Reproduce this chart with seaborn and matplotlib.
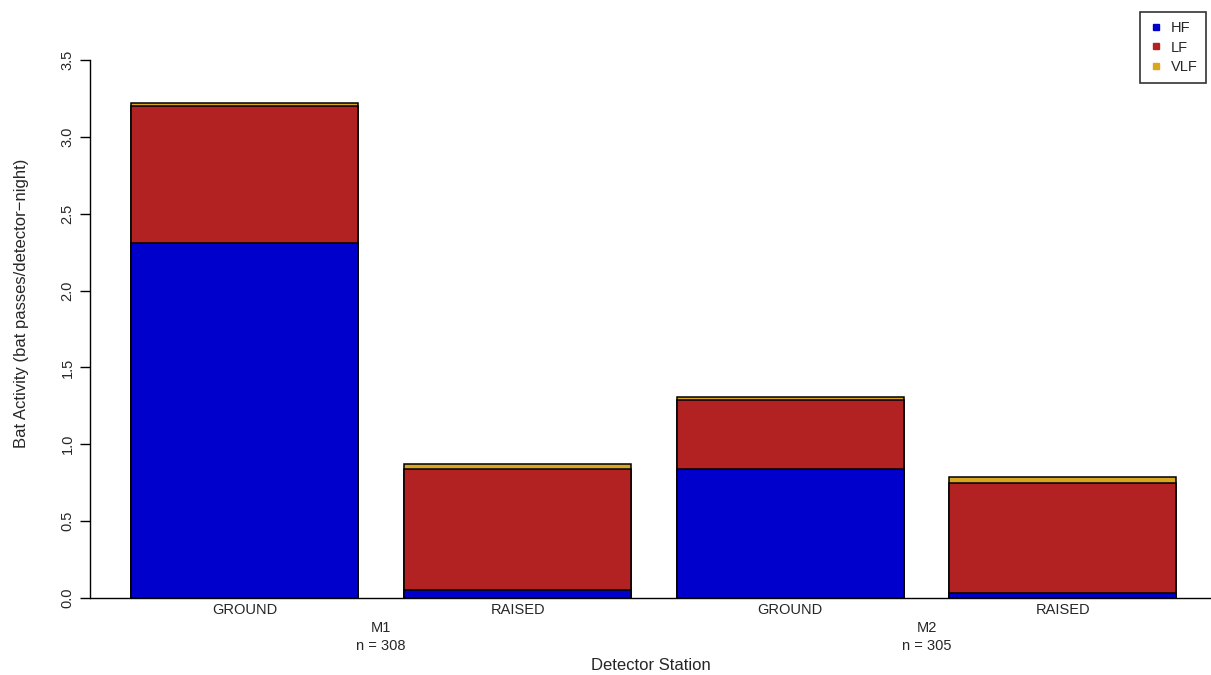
import numpy as np
import pandas as pd
import matplotlib.pyplot as plt
import seaborn as sns
from matplotlib.lines import Line2D
from matplotlib.transforms import blended_transform_factory

# data (bat passes per detector-night)
stations = ["M1 GROUND", "M1 RAISED", "M2 GROUND", "M2 RAISED"]
tick_labels = ["GROUND", "RAISED", "GROUND", "RAISED"]
hf = [2.31, 0.05, 0.84, 0.03]
lf = [0.89, 0.79, 0.45, 0.72]
vlf = [0.02, 0.03, 0.02, 0.04]
groups = ["M1\nn = 308", "M2\nn = 305"]

colors = {"HF": "#0000CD", "LF": "#B22222", "VLF": "#DAA520"}

df = pd.DataFrame({"station": stations, "HF": hf, "LF": lf, "VLF": vlf})
df["hf_lf"] = df["HF"] + df["LF"]
df["total"] = df["hf_lf"] + df["VLF"]

sns.set_style("white")
plt.rcParams["font.family"] = ["Liberation Sans", "DejaVu Sans"]

fig = plt.figure(figsize=(12.11, 6.75), dpi=100)
ax = fig.add_axes([90 / 1211, 1 - 598 / 675, 1121 / 1211, 538 / 675])

# stacked bars: draw the totals first then overlay the lower parts
bar_kw = dict(data=df, x="station", order=stations, width=0.832,
              edgecolor="black", linewidth=1.1, saturation=1, ax=ax)
sns.barplot(y="total", color=colors["VLF"], **bar_kw)
sns.barplot(y="hf_lf", color=colors["LF"], **bar_kw)
sns.barplot(y="HF", color=colors["HF"], **bar_kw)

ax.set_xlim(-0.568, 3.543)
ax.set_ylim(0, 3.5)
ax.axhline(0, color="black", lw=1.0, clip_on=False)

sns.despine(ax=ax, bottom=True, right=True, top=True)
ax.spines["left"].set_linewidth(1.0)
ax.spines["left"].set_color("black")

ax.set_yticks(np.arange(0, 3.51, 0.5))
ax.set_yticklabels([f"{v:.1f}" for v in np.arange(0, 3.51, 0.5)],
                   rotation=90, va="center", fontsize=10.5)
ax.tick_params(axis="y", left=True, length=7, width=1.0, color="black", pad=4)
ax.set_xticks(range(len(stations)))
ax.set_xticklabels(tick_labels, fontsize=10.5)
ax.tick_params(axis="x", bottom=False, pad=0)

trans = blended_transform_factory(ax.transData, ax.transAxes)
for pos, txt in zip([0.5, 2.5], groups):
    ax.text(pos, (598 - 637) / 538, txt, transform=trans, ha="center",
            va="center", fontsize=10.5, linespacing=1.3)

ax.set_xlabel("Detector Station", fontsize=12, va="center")
ax.xaxis.set_label_coords(0.5, (598 - 665) / 538)
ax.set_ylabel("Bat Activity (bat passes/detector\u2212night)", fontsize=12,
              va="center")
ax.yaxis.set_label_coords((22 - 90) / 1121, (598 - 303) / 538)

handles = [Line2D([], [], marker="s", ls="", markersize=5,
                  color=colors[k]) for k in ["HF", "LF", "VLF"]]
leg = fig.legend(handles, ["HF", "LF", "VLF"], loc="upper left",
                 bbox_to_anchor=(1140 / 1211, 1 - 12 / 675), fontsize=10.5,
                 frameon=True, fancybox=False, edgecolor="black",
                 handlelength=1.0, handletextpad=0.5, labelspacing=0.4,
                 borderpad=0.6, borderaxespad=0)
leg.get_frame().set_linewidth(1.2)

fig.savefig("out.png", dpi=100)
